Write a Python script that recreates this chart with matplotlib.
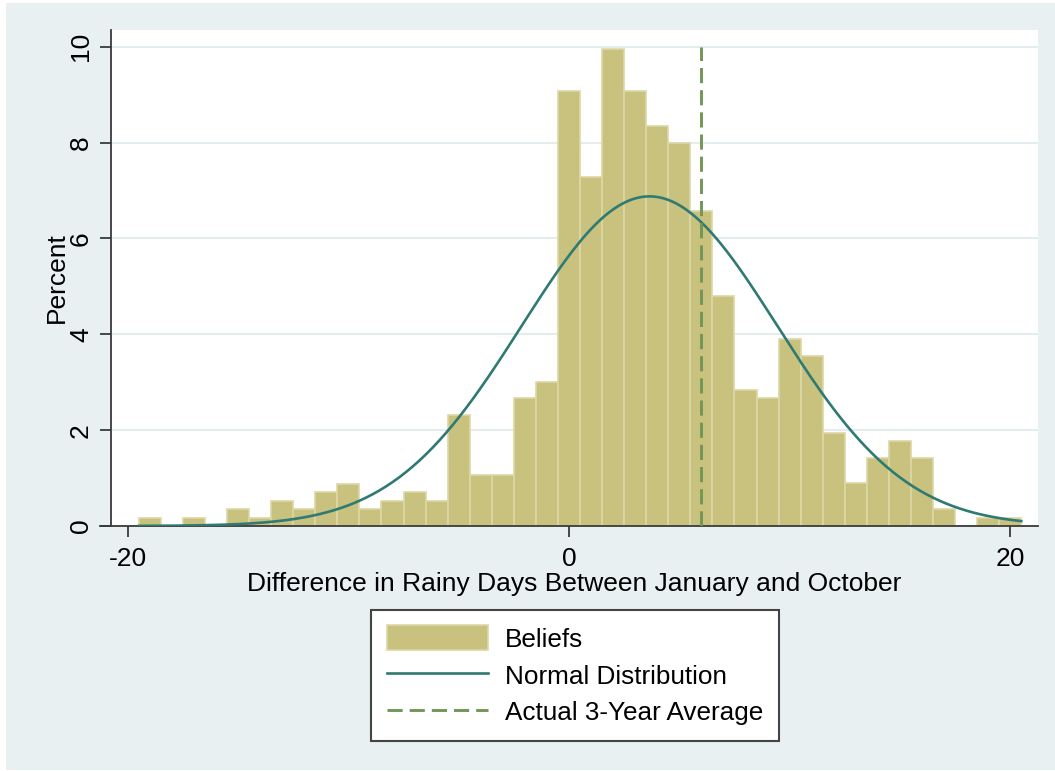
# Histogram of beliefs with normal curve and actual average
import numpy as np
import matplotlib.pyplot as plt
from matplotlib.patches import Rectangle

plt.rcParams['font.family'] = ['Liberation Sans', 'DejaVu Sans']
plt.rcParams['axes.unicode_minus'] = False

# Bin centres (width 1) and percent of respondents in each bin
bin_centers = list(range(-19, 21))
percent = [0.17, 0, 0.17, 0, 0.36, 0.17, 0.53, 0.36, 0.71, 0.88,
           0.35, 0.53, 0.71, 0.53, 2.31, 1.06, 1.06, 2.67, 3.01, 9.07,
           7.29, 9.95, 9.07, 8.35, 7.99, 6.58, 4.80, 2.84, 2.67, 3.90,
           3.55, 1.95, 0.89, 1.41, 1.77, 1.41, 0.35, 0, 0.17, 0.17]

# Fitted normal distribution and the actual 3-year average
normal_mean = 3.65
normal_sd = 5.8
actual_avg = 6

x_ticks = [-20, 0, 20]
y_ticks = [0, 2, 4, 6, 8, 10]

bar_color = '#c9c27f'
bar_edge = '#dcd7a6'
curve_color = '#2f7a72'
dash_color = '#729656'
bg_color = '#e8f0f2'
grid_color = '#e4ecef'
axis_color = '#3a3a3a'

fig = plt.figure(figsize=(10.55, 7.71), dpi=100, facecolor='white')
# light bluish-gray graph region
fig.patches.append(Rectangle((0.0057, 0.0013), 0.9943, 0.9948,
                             transform=fig.transFigure, facecolor=bg_color,
                             edgecolor='none', zorder=-10))

ax = fig.add_axes([0.1052, 0.3178, 0.8787, 0.6433])
ax.set_facecolor('white')

# histogram bars
bars = ax.bar(bin_centers, percent, width=1, color=bar_color, edgecolor=bar_edge,
              linewidth=1.2, label='Beliefs', zorder=2)

# normal curve over the range of the bins
xs = np.linspace(bin_centers[0] - 0.5, bin_centers[-1] + 0.5, 400)
ys = 100 / (normal_sd * np.sqrt(2 * np.pi)) * np.exp(-0.5 * ((xs - normal_mean) / normal_sd) ** 2)
curve, = ax.plot(xs, ys, color=curve_color, linewidth=1.9, label='Normal Distribution', zorder=3)

# actual average
avg_line = ax.vlines(actual_avg, 0, y_ticks[-1], colors=dash_color, linestyles=(0, (5.2, 2.4)),
                     linewidth=2.1, label='Actual 3-Year Average', zorder=4)

ax.set_xlim(-20.76, 21.26)
ax.set_ylim(0, 10.35)
ax.set_xticks(x_ticks)
ax.set_yticks(y_ticks)
ax.set_yticklabels([str(v) for v in y_ticks], rotation=90, va='center')
ax.grid(axis='y', color=grid_color, linewidth=1.5, zorder=0)
ax.set_axisbelow(True)

for side in ['top', 'right']:
    ax.spines[side].set_visible(False)
for side in ['left', 'bottom']:
    ax.spines[side].set_color(axis_color)
    ax.spines[side].set_linewidth(1.3)
# x axis line runs a little past the y axis, like Stata
ax.spines['bottom'].set_bounds(-21.26, 21.26)
ax.tick_params(axis='both', colors=axis_color, length=8, width=1.3, labelsize=19,
               labelcolor='black')
ax.tick_params(axis='x', pad=7)
ax.tick_params(axis='y', pad=5)

ax.set_xlabel('Difference in Rainy Days Between January and October', fontsize=19, labelpad=1)
ax.set_ylabel('Percent', fontsize=19, labelpad=0)

leg = fig.legend([bars, curve, avg_line],
                 ['Beliefs', 'Normal Distribution', 'Actual 3-Year Average'],
                 loc='center', bbox_to_anchor=(0.545, 0.124), fontsize=18.8,
                 frameon=True, fancybox=False, framealpha=1, handlelength=3.85,
                 handleheight=1.1, handletextpad=0.65, labelspacing=0.4,
                 borderpad=0.6, borderaxespad=0)
leg.get_frame().set_edgecolor('#444444')
leg.get_frame().set_linewidth(1.5)

fig.savefig('out.png', dpi=100, facecolor=fig.get_facecolor())
